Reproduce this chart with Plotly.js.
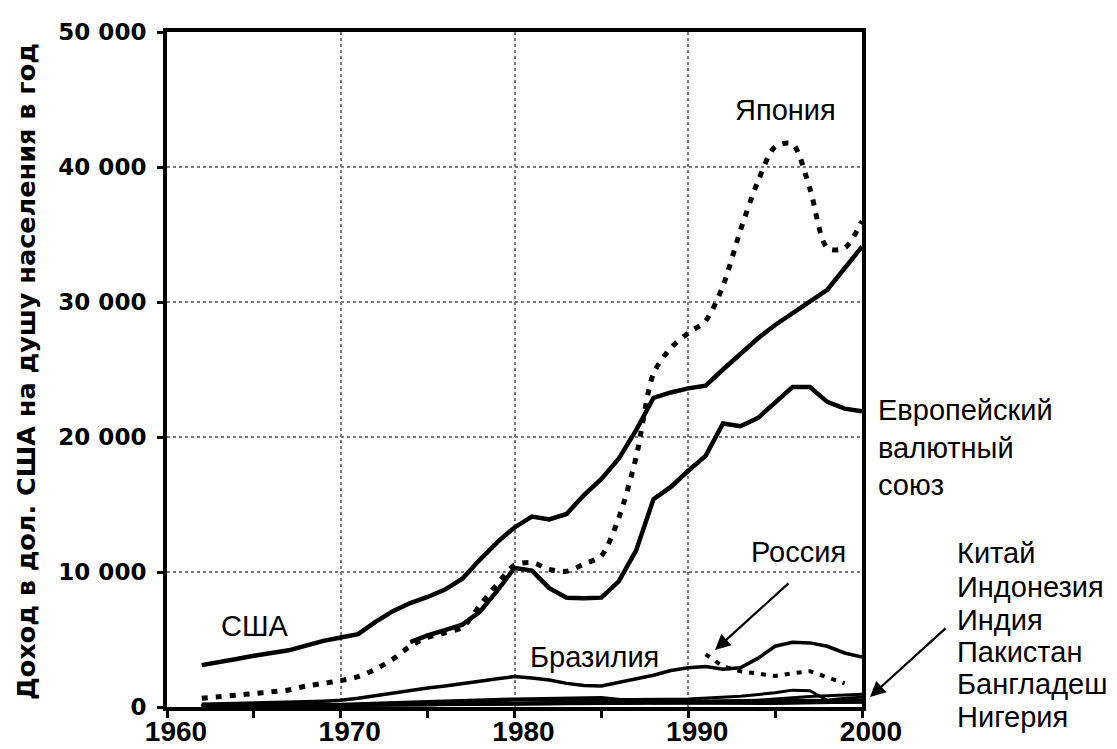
<!DOCTYPE html>
<html>
<head>
<meta charset="utf-8">
<script src="https://cdn.plot.ly/plotly-3.0.1.min.js"></script>
<style>
  html, body { margin: 0; padding: 0; background: #fff; }
  #chart { width: 1117px; height: 749px; }
</style>
</head>
<body>
<div id="chart"></div>
<script>
// ---- Data ----
const yearsMain = [1962,1963,1964,1965,1966,1967,1968,1969,1970,1971,1972,1973,1974,1975,1976,1977,1978,1979,1980,1981,1982,1983,1984,1985,1986,1987,1988,1989,1990,1991,1992,1993,1994,1995,1996,1997,1998,1999,2000];
const usa = [3100,3300,3550,3800,4000,4200,4550,4900,5150,5400,6300,7100,7700,8150,8700,9500,10900,12200,13300,14100,13900,14300,15700,16900,18400,20500,22900,23300,23600,23800,25000,26200,27300,28300,29200,30100,30900,32500,34100];
const japan = [650,760,880,1000,1120,1260,1550,1750,1950,2250,2800,3550,4500,5150,5500,5900,7500,9100,10500,10700,10200,10050,10600,11200,14000,18500,24700,26600,27700,28600,31200,35300,38900,41500,41700,38400,34000,34000,36000];
const brazil = [200,220,240,260,290,330,380,430,500,650,850,1050,1250,1400,1550,1700,1900,2100,2250,2150,2000,1750,1600,1550,1800,2050,2350,2700,2900,3000,2800,2900,3600,4500,4800,4750,4500,4000,3700];

const yearsEmu = [1974,1975,1976,1977,1978,1979,1980,1981,1982,1983,1984,1985,1986,1987,1988,1989,1990,1991,1992,1993,1994,1995,1996,1997,1998,1999,2000];
const emu = [4800,5300,5700,6100,7050,8600,10300,10100,8800,8100,8050,8100,9300,11600,15400,16300,17500,18600,21000,20800,21400,22600,23700,23700,22600,22100,21900];

const yearsRussia = [1991,1992,1993,1994,1995,1996,1997,1998,1999];
const russia = [3900,3000,2650,2450,2300,2500,2650,2200,1750];

const yearsChina = [1962,1970,1975,1980,1985,1990,1993,1995,1997,2000];
const china = [70,110,170,200,290,340,380,600,780,950];
const yearsIndonesia = [1962,1970,1975,1980,1985,1990,1993,1995,1996,1997,1998,1999,2000];
const indonesia = [90,90,240,520,530,600,800,1050,1250,1200,500,650,720];
const yearsIndia = [1962,1970,1975,1980,1985,1990,1995,2000];
const india = [90,110,160,260,300,380,380,450];
const yearsPakistan = [1962,1970,1975,1980,1985,1990,1995,2000];
const pakistan = [90,170,170,300,370,400,500,480];
const yearsBangladesh = [1962,1970,1975,1980,1985,1990,1995,2000];
const bangladesh = [80,120,200,230,250,290,330,360];
const yearsNigeria = [1962,1970,1975,1980,1985,1988,1990,1995,2000];
const nigeria = [100,200,400,600,700,300,290,260,370];

const xTickVals = [1960,1970,1980,1990,2000];
const yTickVals = [0,10000,20000,30000,40000,50000];
const smallCountryNames = ['Китай','Индонезия','Индия','Пакистан','Бангладеш','Нигерия'];
const emuName = 'Европейский<br>валютный<br>союз';
const yTitle = 'Доход в дол. США на душу населения в год';

// ---- Traces ----
const black = '#000';
const traces = [
  {x: yearsMain, y: usa, name: 'США', mode: 'lines', line: {color: black, width: 4.5}},
  {x: yearsMain, y: japan, name: 'Япония', mode: 'lines', line: {color: black, width: 5, dash: '6px,8px', shape: 'spline', smoothing: 0.8}},
  {x: yearsEmu, y: emu, name: 'Европейский валютный союз', mode: 'lines', line: {color: black, width: 4.5}},
  {x: yearsMain, y: brazil, name: 'Бразилия', mode: 'lines', line: {color: black, width: 3.5}},
  {x: yearsRussia, y: russia, name: 'Россия', mode: 'lines', line: {color: black, width: 4, dash: '5px,7px'}},
  {x: yearsChina, y: china, name: 'Китай', mode: 'lines', line: {color: black, width: 3}},
  {x: yearsIndonesia, y: indonesia, name: 'Индонезия', mode: 'lines', line: {color: black, width: 3}},
  {x: yearsIndia, y: india, name: 'Индия', mode: 'lines', line: {color: black, width: 3}},
  {x: yearsPakistan, y: pakistan, name: 'Пакистан', mode: 'lines', line: {color: black, width: 3}},
  {x: yearsBangladesh, y: bangladesh, name: 'Бангладеш', mode: 'lines', line: {color: black, width: 3}},
  {x: yearsNigeria, y: nigeria, name: 'Нигерия', mode: 'lines', line: {color: black, width: 3}}
];

// ---- Layout helpers (pixel -> paper) ----
const L = 167, R = 255, T = 32, B = 42;
const PW = 1117 - L - R, PH = 749 - T - B;
const px = v => (v - L) / PW;
const py = v => (749 - B - v) / PH;

const labelFont = {family: 'Liberation Sans, Arial, sans-serif', size: 29, color: black};

const annotations = [
  {text: yTitle, xref: 'paper', yref: 'paper', x: px(26), y: py(372), xanchor: 'center', yanchor: 'middle', textangle: -90, showarrow: false,
   font: {family: 'DejaVu Sans, sans-serif', size: 25.5, color: black, weight: 'bold'}},
  {text: 'Япония', xref: 'paper', yref: 'paper', x: px(785), y: py(110), xanchor: 'center', yanchor: 'middle', showarrow: false, font: labelFont},
  {text: 'США', xref: 'paper', yref: 'paper', x: px(255), y: py(626), xanchor: 'center', yanchor: 'middle', showarrow: false, font: labelFont},
  {text: 'Бразилия', xref: 'paper', yref: 'paper', x: px(594), y: py(657), xanchor: 'center', yanchor: 'middle', showarrow: false, font: labelFont},
  {text: 'Россия', xref: 'paper', yref: 'paper', x: px(798), y: py(552), xanchor: 'center', yanchor: 'middle', showarrow: false, font: labelFont},
  {text: emuName, xref: 'paper', yref: 'paper', x: px(876), y: py(447), xanchor: 'left', yanchor: 'middle', align: 'left', showarrow: false, font: labelFont},
  // arrows
  {text: '', xref: 'paper', yref: 'paper', x: px(715), y: py(650), ax: 75, ay: -68, showarrow: true, arrowhead: 2, arrowsize: 1.4, arrowwidth: 2.2, arrowcolor: black},
  {text: '', xref: 'paper', yref: 'paper', x: px(870), y: py(697), ax: 77, ay: -70, showarrow: true, arrowhead: 2, arrowsize: 1.4, arrowwidth: 2.2, arrowcolor: black}
];
const listCenters = [553, 587, 620, 652, 684, 717];
smallCountryNames.forEach((n, i) => {
  annotations.push({text: n, xref: 'paper', yref: 'paper', x: px(955), y: py(listCenters[i]), xanchor: 'left', yanchor: 'middle', showarrow: false, font: labelFont});
});

const layout = {
  width: 1117, height: 749,
  margin: {l: L, r: R, t: T, b: B, pad: 0},
  paper_bgcolor: '#fff', plot_bgcolor: '#fff',
  showlegend: false,
  separators: ', ',
  xaxis: {
    range: [1960, 2000], tickvals: xTickVals, tickformat: 'd',
    showline: true, linecolor: black, linewidth: 4, mirror: true,
    ticks: 'outside', ticklen: 7, tickwidth: 3, tickcolor: black,
    minor: {dtick: 5, tick0: 1960, ticks: 'outside', ticklen: 7, tickwidth: 3, tickcolor: black, showgrid: false},
    showgrid: true, gridcolor: '#7a7a7a', gridwidth: 2, griddash: 'dot',
    zeroline: false,
    tickfont: {family: 'Liberation Sans, Arial, sans-serif', size: 28, color: black, weight: 'bold'},
    ticklabelstandoff: -11,
    ticklabelshift: 9
  },
  yaxis: {
    range: [0, 50000], tickvals: yTickVals, tickformat: ',d',
    showline: true, linecolor: black, linewidth: 4, mirror: true,
    ticks: 'outside', ticklen: 6, tickwidth: 3, tickcolor: black,
    showgrid: true, gridcolor: '#7a7a7a', gridwidth: 2, griddash: 'dot',
    zeroline: false,
    tickfont: {family: 'DejaVu Sans, sans-serif', size: 23, color: black, weight: 'bold'},
    ticklabelstandoff: 6
  },
  annotations: annotations
};

Plotly.newPlot('chart', traces, layout, {displayModeBar: false, staticPlot: true});
</script>
</body>
</html>
